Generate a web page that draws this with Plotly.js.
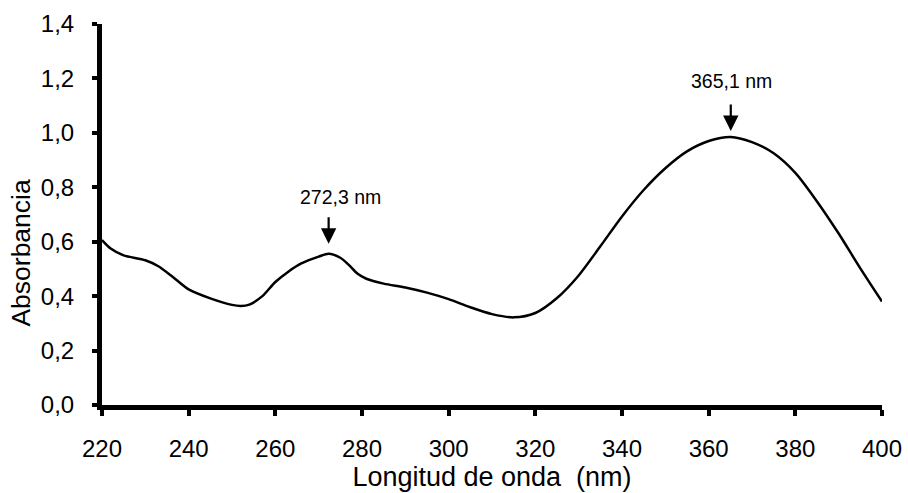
<!DOCTYPE html>
<html>
<head>
<meta charset="utf-8">
<script src="https://cdn.plot.ly/plotly-3.0.1.min.js"></script>
<style>
  html, body { margin: 0; padding: 0; background: #fff; }
  #chart { width: 908px; height: 493px; }
</style>
</head>
<body>
<div id="chart"></div>
<script>
// Wavelength (nm) and absorbance
const wavelength = [220, 222, 225, 230, 233, 236, 240, 245, 250, 252, 254, 257, 260, 263, 266, 270, 272.3, 275, 277, 279, 281, 285, 290, 295, 300, 305, 310, 315, 320, 325, 330, 335, 340, 345, 350, 355, 360, 365.1, 370, 375, 380, 385, 390, 395, 400];
const absorbance = [0.606, 0.575, 0.550, 0.532, 0.510, 0.475, 0.425, 0.392, 0.368, 0.364, 0.369, 0.400, 0.452, 0.490, 0.520, 0.545, 0.556, 0.541, 0.514, 0.482, 0.464, 0.446, 0.432, 0.413, 0.389, 0.359, 0.334, 0.322, 0.338, 0.393, 0.476, 0.583, 0.693, 0.790, 0.870, 0.932, 0.970, 0.985, 0.966, 0.925, 0.853, 0.748, 0.630, 0.502, 0.380];

// Peak annotations
const peakX = [272.3, 365.1];
const peakY = [0.556, 0.985];
const peakLabels = ["272,3 nm", "365,1 nm"];

// Axis ticks
const xTicks = [220, 240, 260, 280, 300, 320, 340, 360, 380, 400];
const yTicks = [0, 0.2, 0.4, 0.6, 0.8, 1.0, 1.2, 1.4];
const yTickText = ["0,0", "0,2", "0,4", "0,6", "0,8", "1,0", "1,2", "1,4"];

const FONT = "Liberation Sans, Arial, sans-serif";

const trace = {
  x: wavelength,
  y: absorbance,
  type: "scatter",
  mode: "lines",
  line: { color: "#000", width: 2.5, shape: "spline", smoothing: 0.8 },
  hoverinfo: "x+y"
};

const textShift = [[12, 57], [1, 56]];
const arrowGap = [10, 6];
const annotations = [];
peakX.forEach((px, i) => {
  annotations.push({
    x: px, y: peakY[i], xref: "x", yref: "y",
    text: peakLabels[i], showarrow: false,
    xshift: textShift[i][0], yshift: textShift[i][1],
    font: { family: FONT, size: 19.5, color: "#000" }
  });
  annotations.push({
    x: px, y: peakY[i], xref: "x", yref: "y",
    text: "", showarrow: true,
    arrowhead: 2, arrowsize: 1.4, arrowwidth: 2.2, arrowcolor: "#000",
    ax: 0, ay: -(28 + arrowGap[i]), standoff: arrowGap[i]
  });
});
annotations.push({
  text: "Absorbancia", xref: "paper", yref: "paper",
  x: 0, y: 0.40, xanchor: "center", yanchor: "middle",
  xshift: -81, textangle: -90, showarrow: false,
  font: { family: FONT, size: 26.5, color: "#000" }
});

const layout = {
  width: 908, height: 493,
  margin: { l: 102, r: 26, t: 24, b: 88 },
  paper_bgcolor: "#fff", plot_bgcolor: "#fff",
  showlegend: false,
  font: { family: FONT, color: "#000" },
  xaxis: {
    range: [220, 400],
    tickvals: xTicks,
    ticktext: xTicks.map(String),
    ticks: "outside", ticklen: 6, tickwidth: 4, tickcolor: "#000",
    showline: true, linewidth: 5, linecolor: "#000",
    showgrid: false, zeroline: false,
    tickfont: { family: FONT, size: 24, color: "#000" },
    ticklabelstandoff: 12,
    title: { text: "Longitud de onda  (nm)", font: { family: FONT, size: 27, color: "#000" }, standoff: 8 }
  },
  yaxis: {
    range: [0, 1.4],
    tickvals: yTicks,
    ticktext: yTickText,
    ticks: "outside", ticklen: 5, tickwidth: 4, tickcolor: "#000",
    showline: true, linewidth: 5, linecolor: "#000",
    showgrid: false, zeroline: false,
    tickfont: { family: FONT, size: 24, color: "#000" },
    ticklabelstandoff: 13
  },
  annotations: annotations
};

Plotly.newPlot("chart", [trace], layout, { displayModeBar: false, staticPlot: true });
</script>
</body>
</html>
